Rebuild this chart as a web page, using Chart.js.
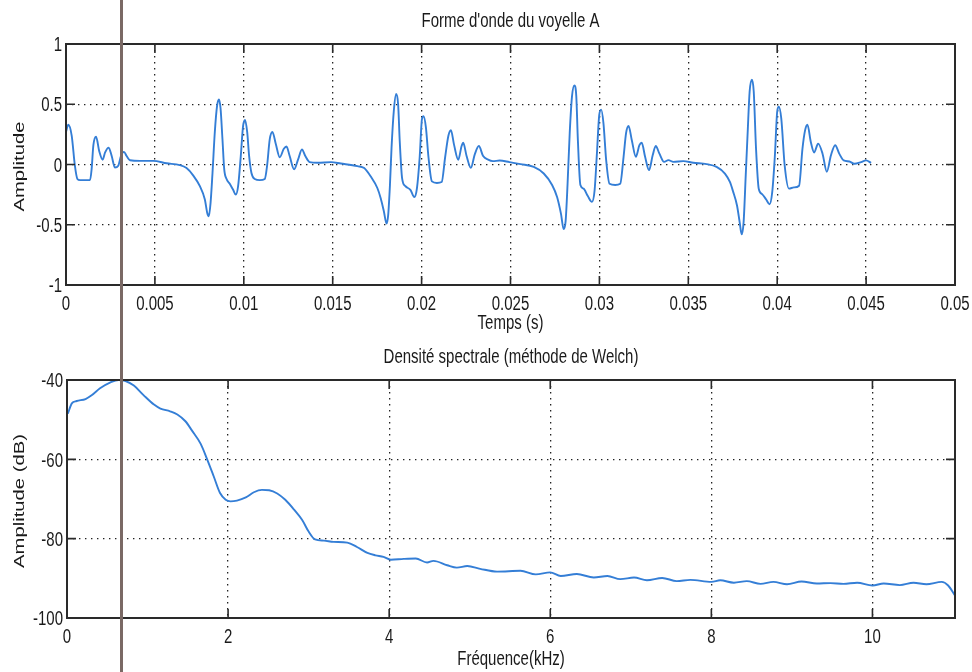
<!DOCTYPE html>
<html>
<head>
<meta charset="utf-8">
<script src="https://cdn.jsdelivr.net/npm/chart.js@4.4.1/dist/chart.umd.min.js"></script>
<style>
  html, body { margin: 0; padding: 0; background: #fff; }
  #wrap { position: relative; width: 972px; height: 672px; overflow: hidden; background: #fff; }
  .panel { position: absolute; left: 0; width: 972px; height: 336px; }
  #rule { position: absolute; left: 120px; top: 0; width: 3px; height: 672px; background: #7a6965; }
</style>
</head>
<body>
<div id="wrap">
  <div class="panel" style="top:0"><canvas id="wave" width="972" height="336"></canvas></div>
  <div class="panel" style="top:336px"><canvas id="psd" width="972" height="336"></canvas></div>
  <div id="rule"></div>
</div>
<script>
// Waveform of the vowel "A": time (s) and amplitude
const waveTime = [
  0.00000, 0.00013, 0.00032, 0.00050, 0.00064, 0.00079, 0.00135, 0.00144, 0.00154, 0.00169,
  0.00187, 0.00206, 0.00220, 0.00240, 0.00257, 0.00275, 0.00294, 0.00309, 0.00326, 0.00341,
  0.00360, 0.00416, 0.00490, 0.00566, 0.00640, 0.00678, 0.00715, 0.00753, 0.00781, 0.00794,
  0.00803, 0.00813, 0.00824, 0.00837, 0.00850, 0.00860, 0.00869, 0.00880, 0.00890, 0.00903,
  0.00921, 0.00940, 0.00955, 0.00968, 0.00983, 0.00996, 0.01007, 0.01019, 0.01030, 0.01043,
  0.01062, 0.01090, 0.01118, 0.01131, 0.01146, 0.01161, 0.01180, 0.01202, 0.01225, 0.01240,
  0.01258, 0.01283, 0.01305, 0.01327, 0.01346, 0.01370, 0.01416, 0.01490, 0.01546, 0.01639,
  0.01677, 0.01714, 0.01751, 0.01770, 0.01788, 0.01803, 0.01812, 0.01822, 0.01831, 0.01844,
  0.01857, 0.01868, 0.01877, 0.01890, 0.01909, 0.01937, 0.01959, 0.01974, 0.01989, 0.02002,
  0.02011, 0.02024, 0.02039, 0.02058, 0.02086, 0.02113, 0.02132, 0.02151, 0.02165, 0.02182,
  0.02206, 0.02225, 0.02234, 0.02253, 0.02277, 0.02299, 0.02322, 0.02346, 0.02374, 0.02401,
  0.02439, 0.02494, 0.02556, 0.02631, 0.02687, 0.02734, 0.02762, 0.02784, 0.02799, 0.02810,
  0.02821, 0.02833, 0.02846, 0.02859, 0.02870, 0.02879, 0.02893, 0.02911, 0.02934, 0.02958,
  0.02973, 0.02986, 0.02999, 0.03010, 0.03023, 0.03038, 0.03057, 0.03089, 0.03117, 0.03136,
  0.03150, 0.03164, 0.03182, 0.03205, 0.03225, 0.03238, 0.03257, 0.03279, 0.03300, 0.03317,
  0.03337, 0.03364, 0.03388, 0.03416, 0.03472, 0.03528, 0.03603, 0.03659, 0.03706, 0.03734,
  0.03751, 0.03774, 0.03789, 0.03800, 0.03811, 0.03823, 0.03834, 0.03845, 0.03858, 0.03868,
  0.03881, 0.03896, 0.03915, 0.03938, 0.03957, 0.03972, 0.03987, 0.04000, 0.04009, 0.04023,
  0.04042, 0.04066, 0.04094, 0.04123, 0.04142, 0.04157, 0.04170, 0.04189, 0.04208, 0.04230,
  0.04255, 0.04279, 0.04302, 0.04326, 0.04349, 0.04374, 0.04406, 0.04434, 0.04472, 0.04500,
  0.04528
];
const waveAmp = [
  0.27, 0.33, 0.24, -0.01, -0.12, -0.13, -0.13, -0.04, 0.16, 0.23,
  0.11, 0.04, 0.10, 0.14, 0.07, -0.025, -0.01, 0.07, 0.105, 0.07,
  0.035, 0.03, 0.03, 0.01, -0.005, -0.03, -0.09, -0.18, -0.29, -0.40,
  -0.43, -0.32, -0.07, 0.27, 0.49, 0.54, 0.47, 0.21, -0.04, -0.12,
  -0.16, -0.21, -0.25, -0.18, 0.07, 0.32, 0.37, 0.27, 0.07, -0.07,
  -0.12, -0.13, -0.12, -0.01, 0.21, 0.27, 0.17, 0.06, 0.13, 0.15,
  0.07, -0.04, 0.04, 0.125, 0.07, 0.02, 0.014, 0.02, 0.008, -0.014,
  -0.03, -0.10, -0.195, -0.28, -0.39, -0.49, -0.42, -0.17, 0.14, 0.45,
  0.585, 0.50, 0.195, -0.11, -0.18, -0.21, -0.27, -0.195, 0.056, 0.376,
  0.40, 0.31, 0.056, -0.14, -0.153, -0.145, 0.056, 0.24, 0.284, 0.167,
  0.04, 0.153, 0.18, 0.07, -0.028, 0.084, 0.153, 0.07, 0.04, 0.028,
  0.033, 0.02, 0.003, -0.02, -0.075, -0.17, -0.27, -0.41, -0.536, -0.47,
  -0.16, 0.26, 0.567, 0.656, 0.567, 0.20, -0.17, -0.20, -0.26, -0.31,
  -0.215, 0.09, 0.41, 0.455, 0.34, 0.036, -0.16, -0.17, -0.16, 0.064,
  0.26, 0.32, 0.204, 0.064, 0.16, 0.18, 0.064, -0.047, 0.078, 0.154,
  0.092, 0.022, 0.036, 0.022, 0.028, 0.014, 0.003, -0.02, -0.075, -0.145,
  -0.22, -0.34, -0.48, -0.58, -0.48, -0.09, 0.27, 0.606, 0.704, 0.606,
  0.13, -0.20, -0.246, -0.29, -0.33, -0.23, 0.075, 0.44, 0.48, 0.38,
  -0.008, -0.20, -0.19, -0.176, 0.13, 0.285, 0.33, 0.187, 0.10, 0.173,
  0.09, -0.06, 0.075, 0.16, 0.09, 0.034, 0.025, 0.006, 0.02, 0.034,
  0.014
];

// Welch power spectral density: frequency (kHz) and level (dB)
const psdFreq = [
  0.01, 0.06, 0.12, 0.23, 0.31, 0.41, 0.54, 0.64, 0.72, 0.83,
  0.95, 1.08, 1.16, 1.28, 1.37, 1.47, 1.55, 1.66, 1.74, 1.82,
  1.90, 1.97, 2.03, 2.11, 2.22, 2.32, 2.42, 2.51, 2.61, 2.71,
  2.82, 2.92, 3.00, 3.08, 3.19, 3.31, 3.48, 3.60, 3.73, 3.83,
  3.93, 4.02, 4.18, 4.33, 4.47, 4.55, 4.72, 4.84, 4.97, 5.13,
  5.34, 5.63, 5.82, 6.00, 6.13, 6.33, 6.54, 6.71, 6.87, 7.04,
  7.20, 7.39, 7.57, 7.74, 8.00, 8.11, 8.28, 8.44, 8.61, 8.77,
  8.94, 9.12, 9.31, 9.48, 9.64, 9.81, 10.00, 10.14, 10.34, 10.51,
  10.67, 10.86, 10.94, 11.02
];
const psdDb = [
  -48.5, -45.9, -45.3, -44.8, -43.8, -42.1, -40.6, -40.0, -40.2, -41.4,
  -43.8, -46.2, -47.2, -47.9, -48.7, -50.4, -52.7, -56.1, -60.0, -64.2,
  -68.5, -70.2, -70.6, -70.4, -69.6, -68.3, -67.7, -67.8, -68.6, -70.2,
  -72.7, -75.3, -78.2, -80.2, -80.5, -80.8, -81.0, -82.1, -83.6, -84.2,
  -84.6, -85.3, -85.1, -85.0, -86.0, -85.6, -86.7, -87.3, -86.9, -87.6,
  -88.3, -88.1, -89.0, -88.5, -89.4, -88.9, -89.8, -89.4, -90.2, -89.8,
  -90.5, -89.9, -90.7, -90.4, -90.9, -90.5, -91.1, -90.7, -91.4, -90.9,
  -91.5, -90.8, -91.3, -91.2, -91.4, -91.1, -91.8, -91.3, -91.7, -91.1,
  -91.5, -90.9, -91.8, -94.2
];

// Axis tick values
const waveXTicks = [0, 0.005, 0.01, 0.015, 0.02, 0.025, 0.03, 0.035, 0.04, 0.045, 0.05];
const waveYTicks = [-1, -0.5, 0, 0.5, 1];
const psdXTicks = [0, 2, 4, 6, 8, 10];
const psdYTicks = [-100, -80, -60, -40];

const FONT = "15px 'Liberation Sans', Arimo, Arial, sans-serif";
const STRETCH = 1.35;          // tall, figure-style lettering
const INK = '#1a1a1a';
const TRACE = 'rgb(52,126,214)';

// Text helper: horizontal text is stretched vertically, rotated text along its run
function putText(ctx, text, x, y, align, baseline, rot) {
  ctx.save();
  ctx.translate(x, y);
  if (rot) { ctx.rotate(rot); ctx.scale(STRETCH, 1); } else { ctx.scale(1, STRETCH); }
  ctx.font = FONT;
  ctx.fillStyle = INK;
  ctx.textAlign = align;
  ctx.textBaseline = baseline;
  ctx.fillText(text, 0, 0);
  ctx.restore();
}

// Axes box with inward tick marks, tick labels and titles
const framePlugin = {
  id: 'frame',
  afterDraw(chart, args, opts) {
    const { ctx, chartArea: a, scales: { x, y } } = chart;
    ctx.save();
    ctx.strokeStyle = '#2a2a2a';
    ctx.lineWidth = 1.6;
    ctx.beginPath();
    x.ticks.forEach(t => {
      const px = x.getPixelForValue(t.value);
      ctx.moveTo(px, a.bottom); ctx.lineTo(px, a.bottom - 9);
      ctx.moveTo(px, a.top); ctx.lineTo(px, a.top + 9);
    });
    y.ticks.forEach(t => {
      const py = y.getPixelForValue(t.value);
      ctx.moveTo(a.left, py); ctx.lineTo(a.left + 9, py);
      ctx.moveTo(a.right, py); ctx.lineTo(a.right - 9, py);
    });
    ctx.stroke();
    ctx.lineWidth = 2;
    ctx.strokeRect(a.left, a.top, a.right - a.left, a.bottom - a.top);
    ctx.restore();

    const midX = (a.left + a.right) / 2;
    const capHalf = 0.716 * 15 * STRETCH / 2;
    x.ticks.forEach(t => putText(ctx, String(t.value), x.getPixelForValue(t.value), a.bottom + 25, 'center', 'alphabetic'));
    y.ticks.forEach(t => putText(ctx, String(t.value), a.left - 4, y.getPixelForValue(t.value) + capHalf, 'right', 'alphabetic'));
    putText(ctx, opts.title, midX, 27, 'center', 'alphabetic');
    putText(ctx, opts.xTitle, midX, 328.5, 'center', 'alphabetic');
    putText(ctx, opts.yTitle, 20, (a.top + a.bottom) / 2 + 2, 'center', 'middle', -Math.PI / 2);
  }
};

function fixedTicks(values) {
  return scale => { scale.ticks = values.map(v => ({ value: v })); };
}

function axis(ticks, min, max, fit) {
  return {
    type: 'linear', min, max,
    afterBuildTicks: fixedTicks(ticks),
    afterFit: fit,
    ticks: { display: false, autoSkip: false },
    grid: { color: '#222', lineWidth: 1.3, drawTicks: false },
    border: { display: false, dash: [1.4, 4.6] }
  };
}

function panel(id, cfg) {
  return new Chart(document.getElementById(id), {
    type: 'line',
    data: {
      datasets: [{
        data: cfg.xs.map((v, i) => ({ x: v, y: cfg.ys[i] })),
        borderColor: TRACE, borderWidth: 1.9, pointRadius: 0,
        cubicInterpolationMode: 'monotone', fill: false
      }]
    },
    options: {
      responsive: false, animation: false, devicePixelRatio: 1,
      layout: { padding: { left: 0, right: 17, top: 44, bottom: 0 } },
      plugins: {
        legend: { display: false },
        tooltip: { enabled: false },
        title: { display: false },
        frame: { title: cfg.title, xTitle: cfg.xTitle, yTitle: cfg.yTitle }
      },
      scales: {
        x: axis(cfg.xTicks, cfg.xMin, cfg.xMax,
                s => { s.height = cfg.xAxisH; s.paddingLeft = 0; s.paddingRight = 0; }),
        y: axis(cfg.yTicks, cfg.yMin, cfg.yMax,
                s => { s.width = cfg.yAxisW; s.paddingTop = 0; s.paddingBottom = 0; })
      }
    },
    plugins: [framePlugin]
  });
}

panel('wave', {
  title: "Forme d'onde du voyelle A",
  xTitle: 'Temps (s)', yTitle: 'Amplitude',
  xs: waveTime, ys: waveAmp,
  xTicks: waveXTicks, yTicks: waveYTicks,
  xMin: 0, xMax: 0.05, yMin: -1, yMax: 1,
  xAxisH: 51, yAxisW: 66
});

panel('psd', {
  title: 'Densité spectrale (méthode de Welch)',
  xTitle: 'Fréquence(kHz)', yTitle: 'Amplitude (dB)',
  xs: psdFreq, ys: psdDb,
  xTicks: psdXTicks, yTicks: psdYTicks,
  xMin: 0, xMax: 11.025, yMin: -100, yMax: -40,
  xAxisH: 54, yAxisW: 67
});
</script>
</body>
</html>
